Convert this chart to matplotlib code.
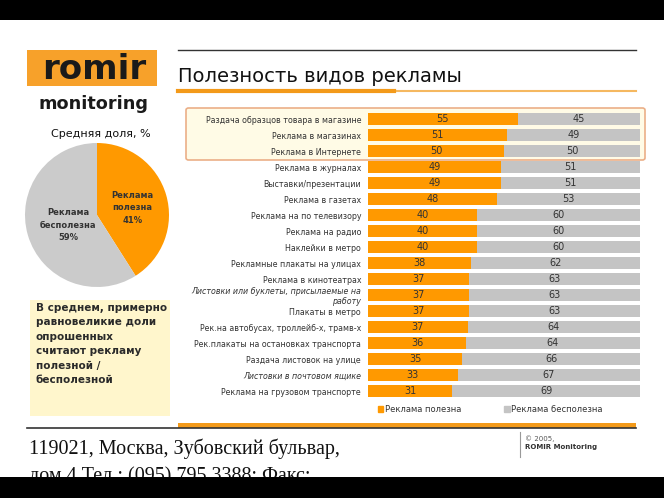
import matplotlib.pyplot as plt
from matplotlib.patches import Rectangle, FancyBboxPatch, Patch
from matplotlib.lines import Line2D

W, H = 664, 498

categories = [
    "Раздача образцов товара в магазине",
    "Реклама в магазинах",
    "Реклама в Интернете",
    "Реклама в журналах",
    "Выставки/презентации",
    "Реклама в газетах",
    "Реклама на по телевизору",
    "Реклама на радио",
    "Наклейки в метро",
    "Рекламные плакаты на улицах",
    "Реклама в кинотеатрах",
    "Листовки или буклеты, присылаемые на\nработу",
    "Плакаты в метро",
    "Рек.на автобусах, троллейб-х, трамв-х",
    "Рек.плакаты на остановках транспорта",
    "Раздача листовок на улице",
    "Листовки в почтовом ящике",
    "Реклама на грузовом транспорте",
]
useful = [55, 51, 50, 49, 49, 48, 40, 40, 40, 38, 37, 37, 37, 37, 36, 35, 33, 31]
useless = [45, 49, 50, 51, 51, 53, 60, 60, 60, 62, 63, 63, 63, 64, 64, 66, 67, 69]
italic_rows = [11, 16]

pie_labels = ["Реклама\nполезна\n41%", "Реклама\nбесполезна\n59%"]
pie_values = [41, 59]

series_names = ["Реклама полезна", "Реклама бесполезна"]

ORANGE = "#FF9900"
GRAY = "#C4C4C4"
TXT = "#333333"


def fx(x):
    return x / W


def fy(y):
    return 1 - y / H


fig = plt.figure(figsize=(W / 100, H / 100), dpi=100)
fig.patch.set_facecolor("white")

# black bands top / bottom
fig.patches.append(Rectangle((0, fy(20)), 1, 20 / H, transform=fig.transFigure,
                             facecolor="black", zorder=10))
fig.patches.append(Rectangle((0, 0), 1, 21 / H, transform=fig.transFigure,
                             facecolor="black", zorder=10))

# logo
fig.patches.append(Rectangle((fx(27), fy(86)), fx(157) - fx(27), 36 / H,
                             transform=fig.transFigure, facecolor="#F7A12A", zorder=1))
fig.text(fx(94), fy(79), "romir", fontsize=24.5, fontweight="bold",
         color="#1a1a1a", ha="center", va="baseline")
fig.text(fx(93), fy(109), "monitoring", fontsize=12.7, fontweight="bold",
         color="#1a1a1a", ha="center", va="baseline")

# header lines and title
fig.add_artist(Line2D([fx(178), fx(636)], [fy(50), fy(50)], color="#333333", lw=1))
fig.text(fx(178), fy(77), "Полезность видов рекламы", fontsize=14, color="#111111",
         ha="left", va="center")
fig.add_artist(Line2D([fx(392), fx(636)], [fy(91), fy(91)], color="#F5B860", lw=1.5))
fig.add_artist(Line2D([fx(178), fx(394)], [fy(91), fy(91)], color="#F39A1A", lw=3))

# highlight box for top three rows
fig.patches.append(FancyBboxPatch((fx(186), fy(160)), fx(645) - fx(186), 52 / H,
                                  boxstyle="round,pad=0,rounding_size=0.004",
                                  transform=fig.transFigure, facecolor="#FFFBE6",
                                  edgecolor="#EBAF88", lw=1.2, zorder=0))

# stacked bars
ax = fig.add_axes([fx(368), fy(399), fx(640) - fx(368), 288 / H])
ax.patch.set_visible(False)
ax.set_zorder(2)
rows = list(range(len(categories)))
share_u = [u / (u + g) for u, g in zip(useful, useless)]
share_g = [g / (u + g) for u, g in zip(useful, useless)]
ax.barh(rows, share_u, height=0.74, color=ORANGE, label=series_names[0])
ax.barh(rows, share_g, left=share_u, height=0.74, color=GRAY, label=series_names[1])
for i in rows:
    ax.text(share_u[i] / 2, i, str(useful[i]), ha="center", va="center",
            fontsize=7, color=TXT)
    ax.text(share_u[i] + share_g[i] / 2, i, str(useless[i]), ha="center",
            va="center", fontsize=7, color=TXT)
ax.set_xlim(0, 1)
ax.set_ylim(len(categories) - 0.5, -0.5)
ax.set_yticks(rows)
ax.set_yticklabels(categories, fontsize=5.7, color=TXT)
for i, lab in enumerate(ax.get_yticklabels()):
    if i in italic_rows:
        lab.set_style("italic")
ax.tick_params(axis="y", length=0, pad=5)
ax.set_xticks([])
for s in ax.spines.values():
    s.set_visible(False)

ax.legend(handles=[Patch(color=ORANGE), Patch(color=GRAY)], labels=series_names,
          loc="center left", bbox_to_anchor=(fx(370), fy(409)),
          bbox_transform=fig.transFigure, ncol=2, frameon=False, fontsize=6,
          handlelength=0.7, handleheight=0.7, handletextpad=0.2,
          columnspacing=5.1, labelcolor=TXT)

# pie
fig.text(fx(101), fy(134), "Средняя доля, %", fontsize=8, color="#111111",
         ha="center", va="center")
pax = fig.add_axes([fx(97 - 72), fy(215 + 72), 144 / W, 144 / H])
pax.pie(pie_values, colors=[ORANGE, "#CBCBCB"], startangle=90, counterclock=False,
        radius=1)
pax.set_xlim(-1, 1)
pax.set_ylim(-1, 1)
pax.text(0.49, 0.10, pie_labels[0], ha="center", va="center", fontsize=6,
         fontweight="bold", color=TXT, linespacing=1.5)
pax.text(-0.40, -0.14, pie_labels[1], ha="center", va="center", fontsize=6,
         fontweight="bold", color=TXT, linespacing=1.5)

# note box
fig.patches.append(Rectangle((fx(30), fy(416)), fx(170) - fx(30), 116 / H,
                             transform=fig.transFigure, facecolor="#FFF6CC", zorder=0))
fig.text(fx(36), fy(303),
         "В среднем, примерно\nравновеликие доли\nопрошенных\nсчитают рекламу\nполезной /\nбесполезной",
         fontsize=7.5, fontweight="bold", color="#2a2a2a", ha="left", va="top",
         linespacing=1.55)

# footer
fig.add_artist(Line2D([fx(27), fx(636)], [fy(428), fy(428)], color="#333333", lw=1.2))
fig.patches.append(Rectangle((fx(178), fy(428)), fx(636) - fx(178), 5 / H,
                             transform=fig.transFigure, facecolor="#F39A1A", zorder=1))
fig.add_artist(Line2D([fx(520), fx(520)], [fy(432), fy(457)], color="#999999", lw=0.8))
fig.text(fx(525), fy(439), "© 2005,", fontsize=5, color="#555555", va="center")
fig.text(fx(525), fy(447), "ROMIR Monitoring", fontsize=5, fontweight="bold",
         color="#333333", va="center")
fig.text(fx(29), fy(454), "119021, Москва, Зубовский бульвар,", fontsize=14.5,
         family="Liberation Serif", color="#111111", va="baseline", zorder=2)
fig.text(fx(29), fy(481), "дом 4 Тел.: (095) 795 3388; Факс:", fontsize=14.5,
         family="Liberation Serif", color="#111111", va="baseline", zorder=2)

fig.savefig("out.png", dpi=100)
